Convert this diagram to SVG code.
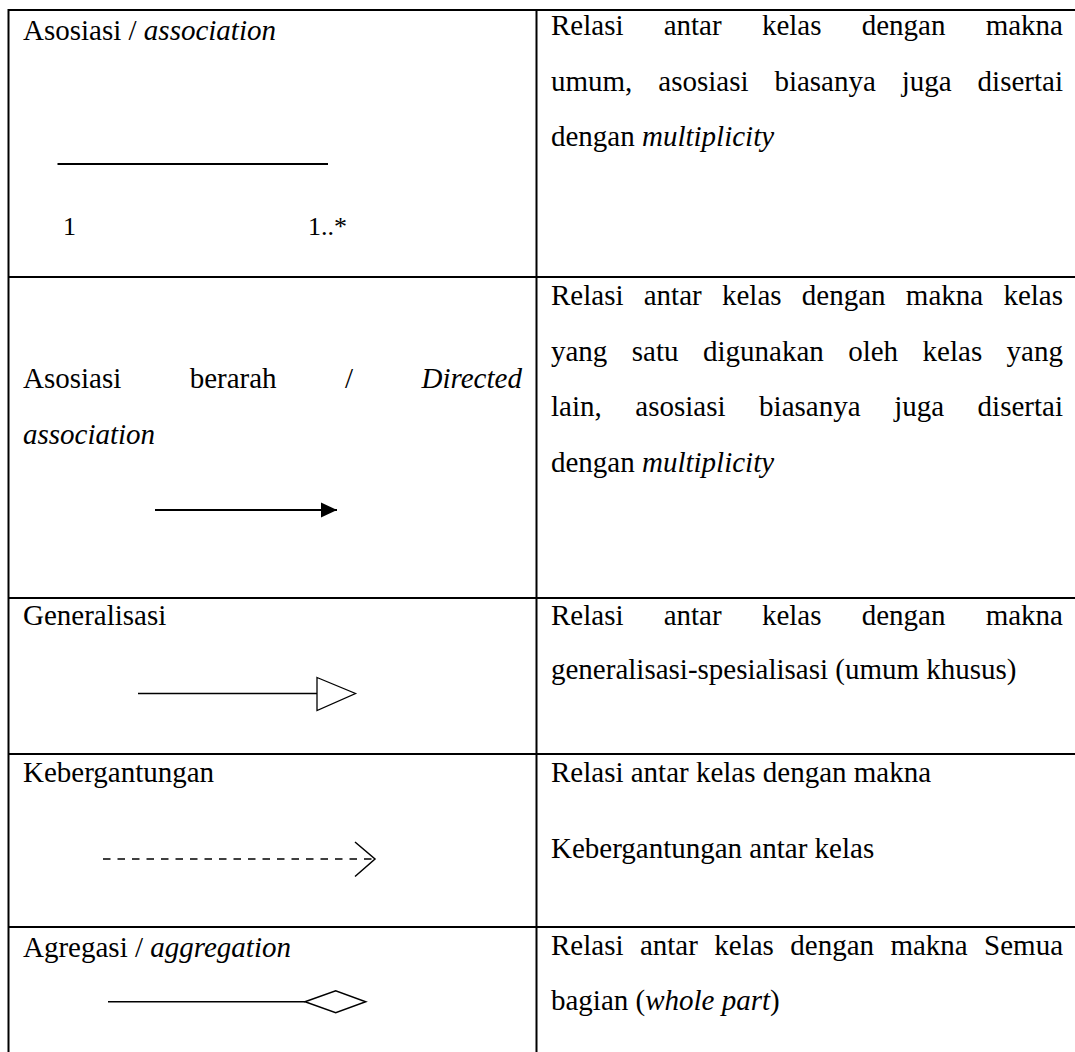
<svg xmlns="http://www.w3.org/2000/svg" width="1075" height="1052" viewBox="0 0 1075 1052">
<style>
text{font-family:"Liberation Serif","Times New Roman",serif;font-size:29px;fill:#000}
.it{font-style:italic}
.small{font-size:26px}
.grid{stroke:#000;stroke-width:2;fill:none}
.sym{stroke:#000;fill:none}
</style>
<defs>
<marker id="filled" markerWidth="16" markerHeight="16" refX="16" refY="8" orient="auto" markerUnits="userSpaceOnUse">
<path d="M0,0.5 L16,8 L0,15.5 Z" fill="#000"/>
</marker>
</defs>
<rect width="1075" height="1052" fill="#fff"/>
<g id="table" class="grid">
<line x1="8.5" y1="10" x2="1075" y2="10"/>
<line x1="8.5" y1="277" x2="1075" y2="277"/>
<line x1="8.5" y1="598" x2="1075" y2="598"/>
<line x1="8.5" y1="754" x2="1075" y2="754"/>
<line x1="8.5" y1="927" x2="1075" y2="927"/>
<line x1="8.5" y1="9" x2="8.5" y2="1052"/>
<line x1="536.5" y1="9" x2="536.5" y2="1052"/>
</g>
<g id="row-association">
<text x="23" y="40">Asosiasi / <tspan class="it">association</tspan></text>
<text class="small" x="63" y="235">1</text>
<text class="small" x="308" y="235">1..*</text>
<text y="35"><tspan x="551">Relasi</tspan><tspan x="663.7">antar</tspan><tspan x="761.9">kelas</tspan><tspan x="861.7">dengan</tspan><tspan x="985.7">makna</tspan></text>
<text y="90.5"><tspan x="551">umum,</tspan><tspan x="658.3">asosiasi</tspan><tspan x="774.4">biasanya</tspan><tspan x="901.8">juga</tspan><tspan x="977.6">disertai</tspan></text>
<text x="551" y="146">dengan <tspan class="it">multiplicity</tspan></text>
</g>
<g id="row-directed">
<text y="388"><tspan x="23">Asosiasi</tspan><tspan x="189.7">berarah</tspan><tspan x="344.9">/</tspan><tspan x="421.5" class="it">Directed</tspan></text>
<text class="it" x="23" y="443.5">association</text>
<text y="305"><tspan x="551">Relasi</tspan><tspan x="643.75">antar</tspan><tspan x="722">kelas</tspan><tspan x="801.85">dengan</tspan><tspan x="905.85">makna</tspan><tspan x="1003.4">kelas</tspan></text>
<text y="360.5"><tspan x="551">yang</tspan><tspan x="631.8">satu</tspan><tspan x="703">digunakan</tspan><tspan x="848.2">oleh</tspan><tspan x="922.6">kelas</tspan><tspan x="1006.6">yang</tspan></text>
<text y="416"><tspan x="551">lain,</tspan><tspan x="635.3">asosiasi</tspan><tspan x="759.1">biasanya</tspan><tspan x="894.2">juga</tspan><tspan x="977.6">disertai</tspan></text>
<text x="551" y="471.5">dengan <tspan class="it">multiplicity</tspan></text>
</g>
<g id="row-generalization">
<text x="23" y="625">Generalisasi</text>
<text y="625"><tspan x="551">Relasi</tspan><tspan x="663.7">antar</tspan><tspan x="761.9">kelas</tspan><tspan x="861.7">dengan</tspan><tspan x="985.7">makna</tspan></text>
<text x="551" y="679">generalisasi-spesialisasi (umum khusus)</text>
</g>
<g id="row-dependency">
<text x="23" y="782">Kebergantungan</text>
<text x="551" y="782">Relasi antar kelas dengan makna</text>
<text x="551" y="858">Kebergantungan antar kelas</text>
</g>
<g id="row-aggregation">
<text x="23" y="957">Agregasi / <tspan class="it">aggregation</tspan></text>
<text y="955"><tspan x="551">Relasi</tspan><tspan x="639.9">antar</tspan><tspan x="714.3">kelas</tspan><tspan x="790.3">dengan</tspan><tspan x="890.4">makna</tspan><tspan x="984.1">Semua</tspan></text>
<text x="551" y="1010">bagian (<tspan class="it">whole part</tspan>)</text>
</g>
<g id="connectors">
<line class="sym" x1="57.5" y1="164" x2="328" y2="164" stroke-width="2"/>
<line class="sym" x1="155" y1="510" x2="337" y2="510" stroke-width="2" marker-end="url(#filled)"/>
<line class="sym" x1="138" y1="693.5" x2="317" y2="693.5" stroke-width="1.3"/>
<path class="sym" d="M317,677.5 L355.5,693.5 L317,710.5 Z" stroke-width="1.3" fill="#fff"/>
<line class="sym" x1="103" y1="859" x2="373" y2="859" stroke-width="1.3" stroke-dasharray="7.5 7"/>
<path class="sym" d="M355,842 L375,859 L355,876.5" stroke-width="1.5"/>
<line class="sym" x1="108" y1="1001.7" x2="305" y2="1001.7" stroke-width="1.5"/>
<path class="sym" d="M305,1001.7 L335.7,990.7 L365.7,1001.7 L335.7,1012.7 Z" stroke-width="1.5" fill="#fff"/>
</g>
</svg>
